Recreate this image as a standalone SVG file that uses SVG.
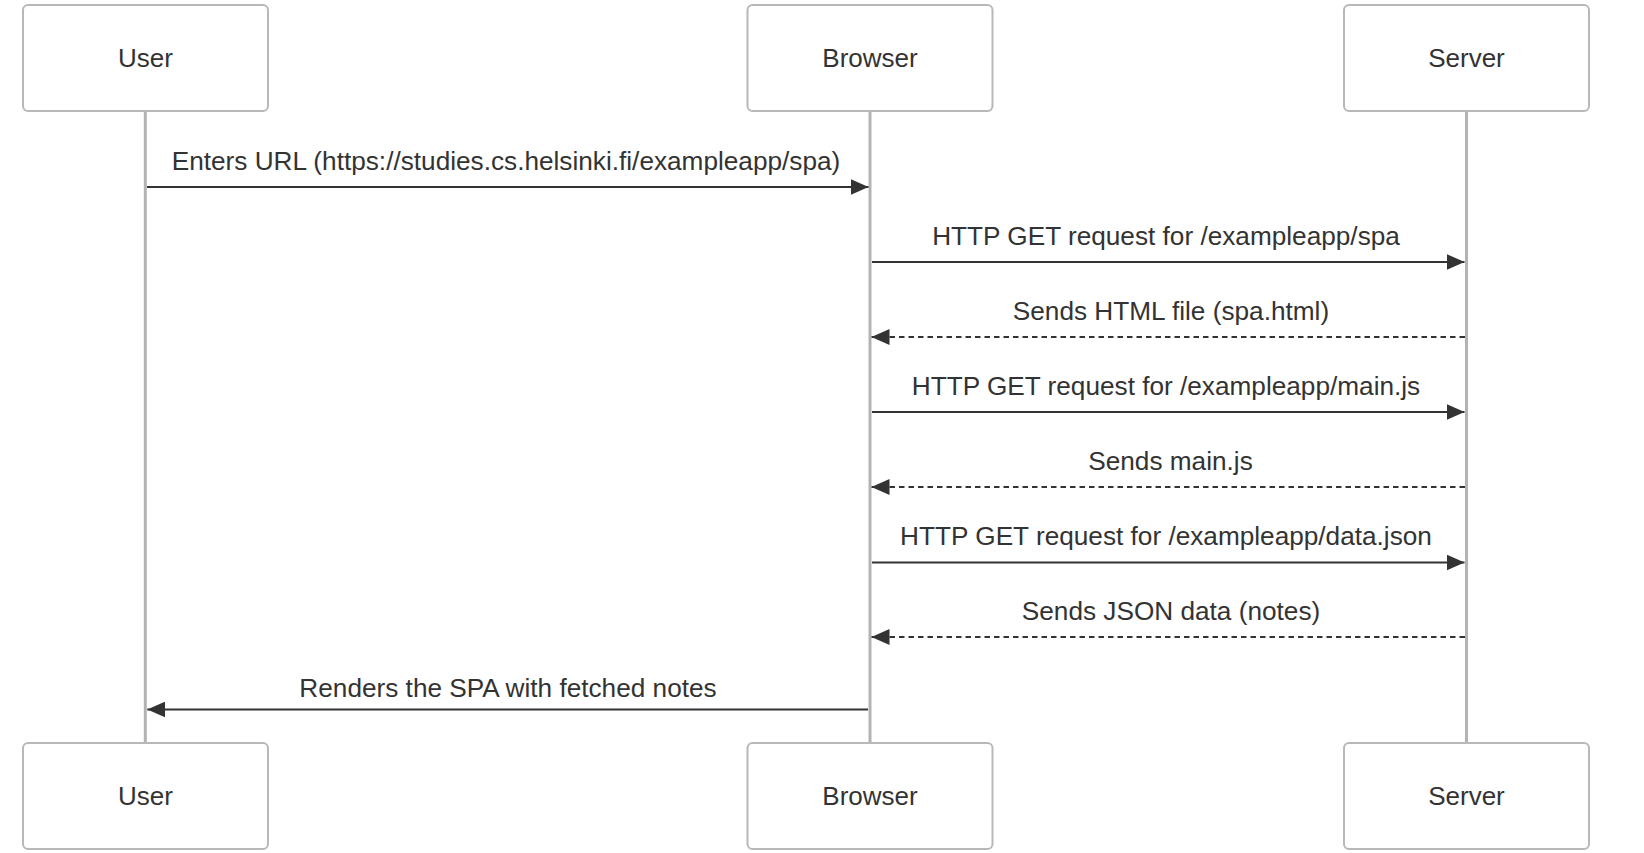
<svg xmlns="http://www.w3.org/2000/svg" width="1644" height="853" viewBox="0 0 1644 853">
<style>
  .actor { fill: #ffffff; stroke: #b8b8b8; stroke-width: 2; }
  .alabel { font-family: "Liberation Sans", Arial, sans-serif; font-size: 26px; fill: #333333; text-anchor: middle; }
  .life { stroke: #b3b3b3; stroke-width: 3; }
  .msg { stroke: #333333; stroke-width: 2.2; fill: none; }
  .dash { stroke-dasharray: 5.5 4; }
  .mlabel { font-family: "Liberation Sans", Arial, sans-serif; font-size: 26.2px; fill: #333333; text-anchor: middle; }
</style>
<defs>
  <marker id="head" markerUnits="userSpaceOnUse" markerWidth="18" markerHeight="16" viewBox="0 0 18 16" refX="18" refY="8" orient="auto">
    <path d="M0,0 L18,8 L0,16 z" fill="#333333"/>
  </marker>
</defs>
<rect width="1644" height="853" fill="#ffffff"/>
<g id="lifelines">
  <line class="life" x1="145.3" y1="111" x2="145.3" y2="743"/>
  <line class="life" x1="870" y1="111" x2="870" y2="743"/>
  <line class="life" x1="1466.5" y1="111" x2="1466.5" y2="743"/>
</g>
<g id="user-top">
  <rect class="actor" x="23" y="5" width="245" height="106" rx="5"/>
  <text class="alabel" x="145.5" y="67">User</text>
</g>
<g id="browser-top">
  <rect class="actor" x="747.5" y="5" width="245" height="106" rx="5"/>
  <text class="alabel" x="870" y="67">Browser</text>
</g>
<g id="server-top">
  <rect class="actor" x="1344" y="5" width="245" height="106" rx="5"/>
  <text class="alabel" x="1466.5" y="67">Server</text>
</g>
<g id="user-bottom">
  <rect class="actor" x="23" y="743" width="245" height="106" rx="5"/>
  <text class="alabel" x="145.5" y="805">User</text>
</g>
<g id="browser-bottom">
  <rect class="actor" x="747.5" y="743" width="245" height="106" rx="5"/>
  <text class="alabel" x="870" y="805">Browser</text>
</g>
<g id="server-bottom">
  <rect class="actor" x="1344" y="743" width="245" height="106" rx="5"/>
  <text class="alabel" x="1466.5" y="805">Server</text>
</g>
<g id="connectors">
  <line class="msg" x1="147" y1="187" x2="868.5" y2="187" marker-end="url(#head)"/>
  <text class="mlabel" x="506" y="169.5">Enters URL (https://studies.cs.helsinki.fi/exampleapp/spa)</text>

  <line class="msg" x1="872" y1="262" x2="1464.5" y2="262" marker-end="url(#head)"/>
  <text class="mlabel" x="1166" y="244.5">HTTP GET request for /exampleapp/spa</text>

  <line class="msg dash" x1="1465" y1="337" x2="871.5" y2="337" marker-end="url(#head)"/>
  <text class="mlabel" x="1171" y="319.5">Sends HTML file (spa.html)</text>

  <line class="msg" x1="872" y1="412" x2="1464.5" y2="412" marker-end="url(#head)"/>
  <text class="mlabel" x="1166" y="394.5">HTTP GET request for /exampleapp/main.js</text>

  <line class="msg dash" x1="1465" y1="487" x2="871.5" y2="487" marker-end="url(#head)"/>
  <text class="mlabel" x="1170.5" y="469.5">Sends main.js</text>

  <line class="msg" x1="872" y1="562.5" x2="1464.5" y2="562.5" marker-end="url(#head)"/>
  <text class="mlabel" x="1166" y="545">HTTP GET request for /exampleapp/data.json</text>

  <line class="msg dash" x1="1465" y1="637" x2="871.5" y2="637" marker-end="url(#head)"/>
  <text class="mlabel" x="1171" y="619.5">Sends JSON data (notes)</text>

  <line class="msg" x1="868" y1="709.5" x2="147.3" y2="709.5" marker-end="url(#head)"/>
  <text class="mlabel" x="508" y="696.5">Renders the SPA with fetched notes</text>
</g>
</svg>
